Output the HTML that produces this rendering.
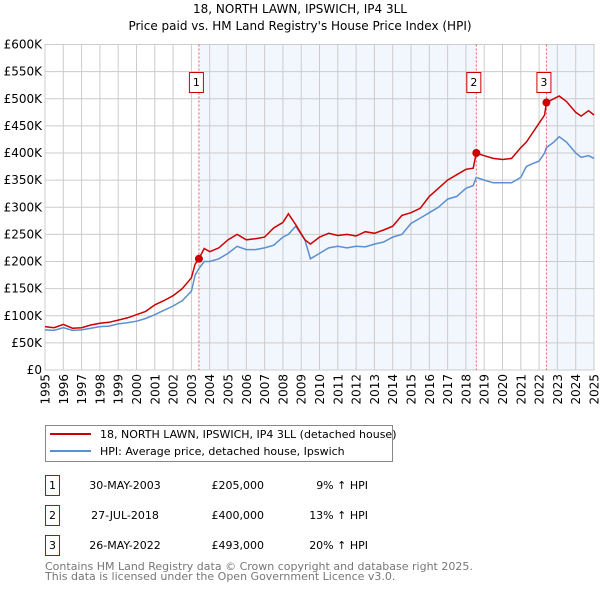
<!DOCTYPE html>
<html><head><meta charset="utf-8"><style>
body{margin:0;width:600px;height:590px;background:#fff;font-family:"DejaVu Sans","Liberation Sans",sans-serif;overflow:hidden}
svg text{font-family:"DejaVu Sans","Liberation Sans",sans-serif}
</style></head><body>
<svg id="c" width="600" height="590" xmlns="http://www.w3.org/2000/svg">
<text x="300" y="13" text-anchor="middle" font-size="12">18, NORTH LAWN, IPSWICH, IP4 3LL</text>
<text x="300" y="30" text-anchor="middle" font-size="12">Price paid vs. HM Land Registry's House Price Index (HPI)</text>
<g id="plot"></g>
<g>
<rect x="45.5" y="425.5" width="347" height="36" fill="#fff" stroke="#888"/>
<line x1="50" y1="434" x2="91" y2="434" stroke="#cc0000" stroke-width="2"/>
<text x="100" y="438" font-size="11">18, NORTH LAWN, IPSWICH, IP4 3LL (detached house)</text>
<line x1="50" y1="451" x2="91" y2="451" stroke="#5b8fd0" stroke-width="2"/>
<text x="100" y="455" font-size="11">HPI: Average price, detached house, Ipswich</text>
</g>
<g id="tbl" font-size="11"></g>
<text x="45" y="570" font-size="11" fill="#777">Contains HM Land Registry data © Crown copyright and database right 2025.</text>
<text x="45" y="580" font-size="11" fill="#777">This data is licensed under the Open Government Licence v3.0.</text>
</svg>
<script>
const yTicks=[0,50,100,150,200,250,300,350,400,450,500,550,600];
const yTickLabels=["£0","£50K","£100K","£150K","£200K","£250K","£300K","£350K","£400K","£450K","£500K","£550K","£600K"];
const years=[1995,1996,1997,1998,1999,2000,2001,2002,2003,2004,2005,2006,2007,2008,2009,2010,2011,2012,2013,2014,2015,2016,2017,2018,2019,2020,2021,2022,2023,2024,2025];
const hpiDates=[1995,1995.5,1996,1996.5,1997,1997.5,1998,1998.5,1999,1999.5,2000,2000.5,2001,2001.5,2002,2002.5,2003,2003.2,2003.41,2003.7,2004,2004.5,2005,2005.5,2006,2006.5,2007,2007.5,2008,2008.3,2008.7,2009.2,2009.5,2010,2010.5,2011,2011.5,2012,2012.5,2013,2013.5,2014,2014.5,2015,2015.5,2016,2016.5,2017,2017.5,2018,2018.4,2018.57,2019,2019.5,2020,2020.5,2021,2021.3,2021.6,2022,2022.3,2022.4,2022.8,2023.1,2023.5,2024,2024.3,2024.7,2025];
const hpiValues=[74,73,78,73,74,77,80,81,85,87,90,95,102,110,118,128,145,175,187,200,200,205,215,228,222,222,225,230,245,250,265,240,205,215,225,228,225,228,227,232,236,245,250,270,280,290,300,315,320,335,340,355,350,345,345,345,355,375,380,385,400,410,420,430,420,400,392,395,390];
const priceValues=[80,78,84,77,78,83,86,88,92,96,102,108,120,128,137,150,170,195,205,224,218,225,240,250,240,242,245,262,272,288,268,240,232,245,252,248,250,247,255,252,258,265,285,290,298,320,335,350,360,370,372,400,395,390,388,390,410,420,435,455,470,493,500,505,495,475,468,478,470];
const saleDates=[2003.41,2018.57,2022.4];
const salePrices=[205,400,493];
const saleLabels=["1","2","3"];
const saleDateText=["30-MAY-2003","27-JUL-2018","26-MAY-2022"];
const salePriceText=["£205,000","£400,000","£493,000"];
const saleHpiText=["9% ↑ HPI","13% ↑ HPI","20% ↑ HPI"];

const X0=45,X1=594,Y0=370,Y1=44.5;
const xs=v=>X0+(v-1995)/(2025-1995)*(X1-X0);
const ys=v=>Y0-v/600*(Y0-Y1);
const NS="http://www.w3.org/2000/svg";
const plot=document.getElementById('plot');
function mk(tag,attrs,parent){const e=document.createElementNS(NS,tag);for(const k in attrs)e.setAttribute(k,attrs[k]);(parent||plot).appendChild(e);return e;}

const sh1=mk('rect',{x:xs(saleDates[0]),y:Y1,width:xs(saleDates[1])-xs(saleDates[0]),height:Y0-Y1,fill:'#f2f6fd'});


const sh2=mk('rect',{x:xs(saleDates[2]),y:Y1,width:X1-xs(saleDates[2]),height:Y0-Y1,fill:'#f2f6fd'});



yTicks.forEach((t,i)=>{
  const l=mk('line',{x1:X0,x2:X1,y1:ys(t),y2:ys(t),stroke:'#ccc','stroke-width':1});
  
  
  const tx=mk('text',{x:X0-3,y:ys(t)+4,'text-anchor':'end','font-size':12});
  
  
  tx.textContent=yTickLabels[i];
});
years.forEach(y=>{
  const l=mk('line',{x1:xs(y),x2:xs(y),y1:Y1,y2:Y0,stroke:'#ccc','stroke-width':1});
  
  
  const px=xs(y)+4.5, py=Y0+4;
  const tx=mk('text',{x:px,y:py,'text-anchor':'end','font-size':12,transform:`rotate(-90 ${px} ${py})`});
  
  
  tx.textContent=y;
});
const fr=mk('rect',{x:X0,y:Y1,width:X1-X0,height:Y0-Y1,fill:'none',stroke:'#ccc'});



saleDates.forEach((d,i)=>{
  const l=mk('line',{x1:xs(d),x2:xs(d),y1:Y1,y2:Y0,stroke:'#e06060','stroke-width':1,'stroke-dasharray':'2,2'});
  
  
  const b=mk('rect',{x:xs(d)-9.5,y:72.5,width:14,height:20,fill:'#fff',stroke:'#cc0000'});
  
  
  const t=mk('text',{x:xs(d)-2.5,y:86,'text-anchor':'middle','font-size':11});
  
  
  t.textContent=saleLabels[i];
});

function pts(vals){return hpiDates.map((d,i)=>xs(d).toFixed(1)+','+ys(vals[i]).toFixed(1)).join(' ');}
const hl=mk('polyline',{points:pts(hpiValues),fill:'none',stroke:'#5b8fd0','stroke-width':1.5});


const pl=mk('polyline',{points:pts(priceValues),fill:'none',stroke:'#cc0000','stroke-width':1.5});


saleDates.forEach((d,i)=>{
  const c=mk('circle',{cx:xs(d),cy:ys(salePrices[i]),r:4,fill:'#cc0000'});
  
  
});

const tbl=document.getElementById('tbl');
saleDates.forEach((d,i)=>{
  const y0=475+i*30;
  const b=mk('rect',{x:45.5,y:y0+0.5,width:14,height:20,fill:'none',stroke:'#cc0000'},tbl);
  
  
  const t=mk('text',{x:52.5,y:y0+14,'text-anchor':'middle'},tbl);
  
  
  t.textContent=saleLabels[i];
  const dt=mk('text',{x:125,y:y0+14,'text-anchor':'middle'},tbl);
  
  
  dt.textContent=saleDateText[i];
  const pr=mk('text',{x:264,y:y0+14,'text-anchor':'end'},tbl);
  
  
  pr.textContent=salePriceText[i];
  const hp=mk('text',{x:368,y:y0+14,'text-anchor':'end'},tbl);
  
  
  hp.textContent=saleHpiText[i];
});
</script>
</body></html>
